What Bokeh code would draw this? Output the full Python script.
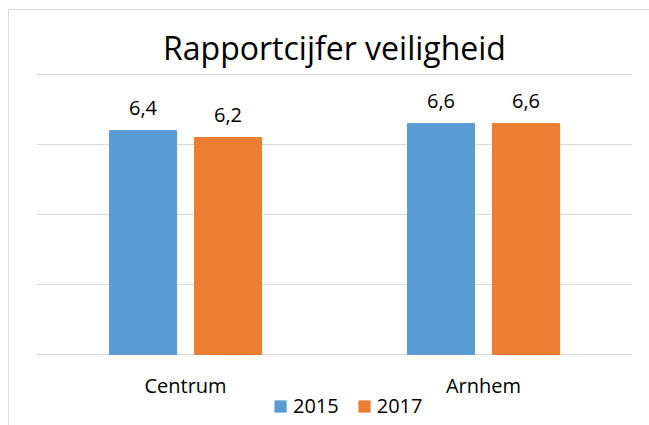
from bokeh.plotting import figure
from bokeh.models import Legend, LegendItem, ColumnDataSource
from bokeh.transform import dodge
from bokeh.core.properties import value
from bokeh.embed import file_html
from bokeh.resources import INLINE

categories = ["Centrum", "Arnhem"]
years = ["2015", "2017"]
values_2015 = [6.4, 6.6]
values_2017 = [6.2, 6.6]
labels_2015 = ["6,4", "6,6"]
labels_2017 = ["6,2", "6,6"]
y_ticks = [0, 2, 4, 6, 8]

colors = ["#5B9BD5", "#ED7D31"]
FONT = "Open Sans"

src = ColumnDataSource(dict(cat=categories, v15=values_2015, v17=values_2017,
                            l15=labels_2015, l17=labels_2017,
                            base=[0] * len(categories)))

p = figure(x_range=categories, y_range=(-2.03, 8.03), frame_width=596, frame_height=352,
           output_backend="svg", toolbar_location=None,
           min_border_left=27, min_border_right=17, min_border_top=63, min_border_bottom=0)
p.styles = {"margin-left": "8px", "margin-top": "9px",
            "border-left": "1px solid #d9d9d9", "border-top": "1px solid #d9d9d9"}

p.title.text = "Rapportcijfer veiligheid"
p.title.align = "center"
p.title.text_font = FONT
p.title.text_font_size = "32px"
p.title.text_font_style = "normal"
p.title.text_color = "#000000"
p.title.standoff = 10

r1 = p.vbar(x=dodge("cat", -0.1426, range=p.x_range), top="v15", width=0.225,
            source=src, fill_color=colors[0], line_color=colors[0])
r2 = p.vbar(x=dodge("cat", 0.1426, range=p.x_range), top="v17", width=0.225,
            source=src, fill_color=colors[1], line_color=colors[1])

for off, top, lab in [(-0.1426, "v15", "l15"), (0.1426, "v17", "l17")]:
    p.text(x=dodge("cat", off, range=p.x_range), y=top, text=lab, source=src,
           text_align="center", text_baseline="alphabetic", y_offset=-23,
           text_font=value(FONT), text_font_size="20px", text_color="#000000")

# category labels below the baseline
p.text(x="cat", y="base", text="cat", source=src, text_align="center",
       text_baseline="middle", y_offset=31,
       text_font=value(FONT), text_font_size="20px", text_color="#000000")

p.xaxis.visible = False
p.yaxis.visible = False
p.xgrid.grid_line_color = None
p.ygrid.grid_line_color = "#d9d9d9"
p.ygrid.grid_line_width = 1
p.ygrid.ticker = y_ticks
p.outline_line_color = None

legend = Legend(items=[LegendItem(label=years[0], renderers=[r1]),
                       LegendItem(label=years[1], renderers=[r2])],
                orientation="horizontal", location=(237, 6))
legend.label_text_font = FONT
legend.label_text_font_size = "20px"
legend.label_text_color = "#000000"
legend.glyph_width = 14
legend.glyph_height = 14
legend.label_height = 14
legend.border_line_color = None
legend.background_fill_alpha = 0
legend.padding = 0
legend.margin = 0
legend.spacing = 18
legend.label_standoff = 6
p.add_layout(legend, "center")

open("out.html", "w").write(file_html(p, INLINE))
